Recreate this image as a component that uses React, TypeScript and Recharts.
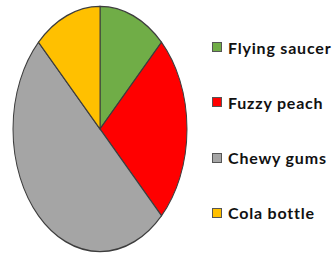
import { PieChart, Pie, Cell } from 'recharts'

const names = ['Flying saucer', 'Fuzzy peach', 'Chewy gums', 'Cola bottle']
const values = [12.5, 25, 50, 12.5]
const colors = ['#70AD47', '#FF0000', '#A5A5A5', '#FFC000']

const data = names.map((n, i) => ({ name: n, value: values[i] }))

const SIZE = 176

export default function App() {
  return (
    <div style={{ position: 'absolute', left: 0, top: 0, width: 332, height: 260, background: '#fff', overflow: 'hidden' }}>
      <div style={{ position: 'absolute', left: 12, top: 5, width: SIZE, height: SIZE, transform: `scaleY(${248 / SIZE})`, transformOrigin: '0 0' }}>
        <PieChart width={SIZE} height={SIZE} margin={{ top: 0, right: 0, bottom: 0, left: 0 }}>
          <Pie
            data={data}
            dataKey="value"
            cx={SIZE / 2}
            cy={SIZE / 2}
            outerRadius={SIZE / 2 - 1}
            startAngle={90}
            endAngle={-270}
            stroke="#3d3d3d"
            strokeWidth={1}
            isAnimationActive={false}
          >
            {data.map((d, i) => (
              <Cell key={d.name} fill={colors[i]} vectorEffect="non-scaling-stroke" />
            ))}
          </Pie>
        </PieChart>
      </div>
      {data.map((d, i) => (
        <div key={d.name} style={{ position: 'absolute', left: 212, top: 37 + i * 55.3, height: 20, display: 'flex', alignItems: 'center', whiteSpace: 'nowrap' }}>
          <span style={{ width: 8, height: 8, background: colors[i], border: '1px solid #555', marginRight: 6 }} />
          <span style={{ fontFamily: 'Lato, sans-serif', fontWeight: 700, fontSize: 16, letterSpacing: 0.8, color: '#111' }}>{d.name}</span>
        </div>
      ))}
    </div>
  )
}
